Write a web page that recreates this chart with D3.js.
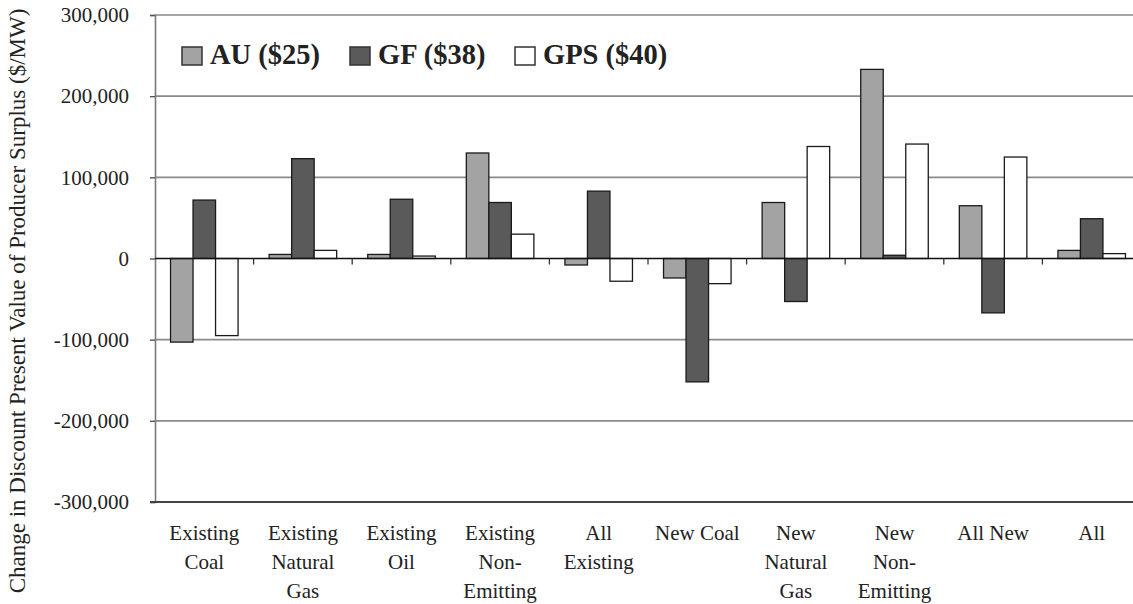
<!doctype html>
<html>
<head>
<meta charset="utf-8"/>
<style>
    html, body { margin: 0; padding: 0; background: #fff; }
    svg { display: block; }
    text { font-family: 'Liberation Serif', 'Times New Roman', serif; fill: #222; }
</style>
<script src="https://d3js.org/d3.v7.min.js"></script>
</head>
<body>
<svg id="chart" width="1133" height="604"></svg>
<script>
    // Data
    var categories = [
        ["Existing", "Coal"],
        ["Existing", "Natural", "Gas"],
        ["Existing", "Oil"],
        ["Existing", "Non-", "Emitting"],
        ["All", "Existing"],
        ["New Coal"],
        ["New", "Natural", "Gas"],
        ["New", "Non-", "Emitting"],
        ["All New"],
        ["All"]
    ];
    var seriesNames = ["AU ($25)", "GF ($38)", "GPS ($40)"];
    var seriesColors = ["#a3a3a3", "#5a5a5a", "#ffffff"];
    var auValues  = [-103000,   5000,  5000, 130000,  -8000,  -24000,  69000, 233000,  65000, 10000];
    var gfValues  = [  72000, 123000, 73000,  69000,  83000, -152000, -53000,   4000, -67000, 49000];
    var gpsValues = [ -95000,  10000,  3000,  30000, -28000,  -31000, 138000, 141000, 125000,  6000];
    var yTicks = [-300000, -200000, -100000, 0, 100000, 200000, 300000];
    var yTitle = "Change in Discount Present Value of Producer Surplus ($/MW)";

    (function() {
        var allSeries = [auValues, gfValues, gpsValues];

        var svg = d3.select("#chart");
        var plotLeft = 155, plotRight = 1141, plotTop = 15, plotBottom = 502;

        var x = d3.scaleBand()
            .domain(d3.range(categories.length))
            .range([plotLeft, plotRight])
            .paddingInner(0.315)
            .paddingOuter(0.1575);
        var xs = d3.scaleBand()
            .domain(d3.range(seriesNames.length))
            .range([0, x.bandwidth()]);
        var y = d3.scaleLinear().domain([-300000, 300000]).range([plotBottom, plotTop]);

        // plain hyphen for negatives, like the original
        var fmt = d3.formatLocale({decimal: ".", thousands: ",", grouping: [3], currency: ["$", ""], minus: "-"}).format(",");

        // gridlines
        svg.append("g").selectAll("line")
            .data(yTicks.filter(function(d) { return d !== 0 && d !== -300000; }))
            .enter().append("line")
            .attr("x1", plotLeft).attr("x2", 1133)
            .attr("y1", function(d) { return y(d); }).attr("y2", function(d) { return y(d); })
            .attr("stroke", "#8a8a8a").attr("stroke-width", 1.6);

        // y axis
        var yAxis = svg.append("g")
            .attr("transform", "translate(" + plotLeft + ",0)")
            .call(d3.axisLeft(y).tickValues(yTicks).tickFormat(fmt).tickSize(5).tickPadding(21));
        yAxis.select(".domain").attr("stroke", "#7a7a7a").attr("stroke-width", 1.6);
        yAxis.selectAll(".tick line").attr("stroke", "#555").attr("stroke-width", 1.4);
        yAxis.selectAll(".tick text")
            .style("font-family", "'Liberation Serif', serif")
            .style("font-size", "21px").attr("fill", "#333");

        // bottom line
        svg.append("line")
            .attr("x1", plotLeft - 5).attr("x2", 1133)
            .attr("y1", y(-300000)).attr("y2", y(-300000))
            .attr("stroke", "#444").attr("stroke-width", 2);

        // bars
        var groups = svg.append("g").selectAll("g")
            .data(categories)
            .enter().append("g")
            .attr("transform", function(d, i) { return "translate(" + x(i) + ",0)"; });

        groups.selectAll("rect")
            .data(function(d, i) { return allSeries.map(function(s, j) { return {s: j, v: s[i]}; }); })
            .enter().append("rect")
            .attr("x", function(d) { return xs(d.s); })
            .attr("width", xs.bandwidth())
            .attr("y", function(d) { return y(Math.max(0, d.v)); })
            .attr("height", function(d) { return Math.abs(y(d.v) - y(0)); })
            .attr("fill", function(d) { return seriesColors[d.s]; })
            .attr("stroke", "#1a1a1a").attr("stroke-width", 1.3);

        // zero line
        svg.append("line")
            .attr("x1", plotLeft).attr("x2", 1133)
            .attr("y1", y(0)).attr("y2", y(0))
            .attr("stroke", "#111").attr("stroke-width", 1.6);

        // category boundary ticks below zero line
        svg.append("g").selectAll("line")
            .data(d3.range(1, categories.length + 1))
            .enter().append("line")
            .attr("x1", function(i) { return plotLeft + i * x.step(); })
            .attr("x2", function(i) { return plotLeft + i * x.step(); })
            .attr("y1", y(0)).attr("y2", y(0) + 6)
            .attr("stroke", "#333").attr("stroke-width", 1.3);

        // category labels
        var labels = svg.append("g").selectAll("text")
            .data(categories)
            .enter().append("text")
            .attr("text-anchor", "middle")
            .attr("font-size", 21)
            .attr("fill", "#333")
            .attr("transform", function(d, i) { return "translate(" + (x(i) + x.bandwidth() / 2) + ",540)"; });
        labels.selectAll("tspan")
            .data(function(d) { return d; })
            .enter().append("tspan")
            .attr("x", 0)
            .attr("y", function(d, k) { return k * 29; })
            .text(function(d) { return d; });

        // y axis title
        svg.append("text")
            .attr("transform", "translate(25,301) rotate(-90)")
            .attr("text-anchor", "middle")
            .attr("font-size", 23)
            .attr("fill", "#333")
            .text(yTitle);

        // legend
        var legendX = [182, 350, 515];
        var legend = svg.append("g").selectAll("g")
            .data(seriesNames)
            .enter().append("g")
            .attr("transform", function(d, i) { return "translate(" + legendX[i] + ",47)"; });
        legend.append("rect")
            .attr("width", 20).attr("height", 18)
            .attr("fill", function(d, i) { return seriesColors[i]; })
            .attr("stroke", "#333").attr("stroke-width", 1.5);
        legend.append("text")
            .attr("x", 28).attr("y", 17)
            .attr("font-size", 28.5)
            .attr("font-weight", "bold")
            .attr("fill", "#111")
            .text(function(d) { return d; });
    })();
</script>
</body>
</html>
